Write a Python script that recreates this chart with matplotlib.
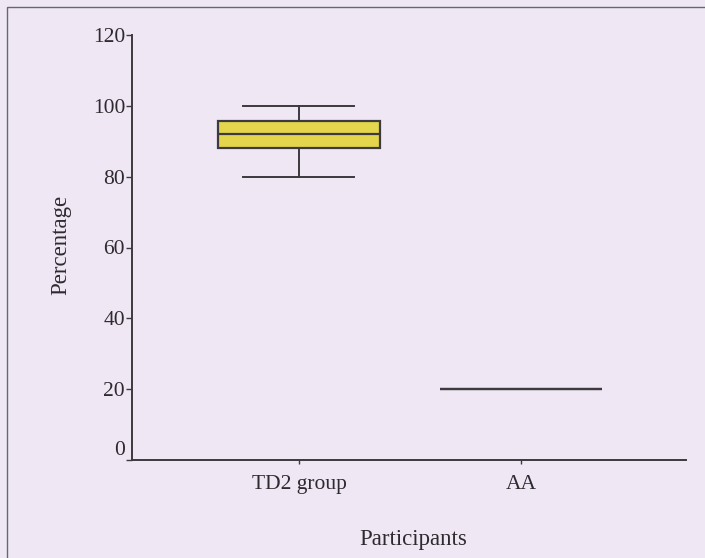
import matplotlib
matplotlib.use("Agg")
import matplotlib.pyplot as plt
from matplotlib.patches import Rectangle
from matplotlib.transforms import ScaledTranslation

# Data
categories = ["TD2 group", "AA"]
whisker_low = [80, 20]
q1 = [88.2, 20]
median = [92.0, 20]
q3 = [95.8, 20]
whisker_high = [100, 20]
y_ticks = [0, 20, 40, 60, 80, 100, 120]

bg = "#EFE7F4"
ink = "#3d3a3f"
txt = "#2e2b30"
plt.rcParams["font.family"] = ["Liberation Serif", "DejaVu Serif"]

fig = plt.figure(figsize=(7.05, 5.58), dpi=100, facecolor=bg)
ax = fig.add_axes([132/705, 1-460/558, 554/705, (460-35)/558])
ax.set_facecolor(bg)

stats = []
for i, c in enumerate(categories):
    stats.append(dict(label=c, whislo=whisker_low[i], q1=q1[i], med=median[i],
                      q3=q3[i], whishi=whisker_high[i], fliers=[]))
positions = list(range(1, len(categories) + 1))
bp = ax.bxp(stats, positions=positions, widths=0.73, patch_artist=True,
            showfliers=False,
            boxprops=dict(facecolor="#E4D64C", edgecolor=ink, linewidth=1.6),
            medianprops=dict(color=ink, linewidth=1.6),
            whiskerprops=dict(color=ink, linewidth=1.4),
            capprops=dict(color=ink, linewidth=1.4), capwidths=0.5)

ax.set_xlim(0.248, 2.743)
ax.set_ylim(0, 120)
ax.set_yticks(y_ticks)
ax.set_xticks(positions)
ax.set_xticklabels(categories)

for s in ["top", "right"]:
    ax.spines[s].set_visible(False)
for s in ["left", "bottom"]:
    ax.spines[s].set_color(ink)
    ax.spines[s].set_linewidth(1.4)

ax.tick_params(axis="y", length=4, width=1.0, color=ink, labelsize=15.5,
               labelcolor=txt, pad=1)
ax.tick_params(axis="x", length=3, width=1.0, color=ink, labelsize=15.5,
               labelcolor=txt, pad=8)

# the "0" label sits a little above its tick in the original
fig.canvas.draw()
lab0 = ax.yaxis.get_major_ticks()[0].label1
lab0.set_transform(lab0.get_transform() + ScaledTranslation(0, 0.12, fig.dpi_scale_trans))

ax.set_ylabel("Percentage", fontsize=16.5, color=txt)
ax.yaxis.set_label_coords(-0.11, 0.506)
ax.set_xlabel("Participants", fontsize=16.5, color=txt)
ax.xaxis.set_label_coords(0.507, -0.162)

# page frame
fig.patches.append(Rectangle((7/705, -0.1), 1.2, 1 - 7/558 + 0.1,
                             transform=fig.transFigure, fill=False,
                             edgecolor="#6a6570", linewidth=1.0))

fig.savefig("out.png", dpi=100, facecolor=bg)
